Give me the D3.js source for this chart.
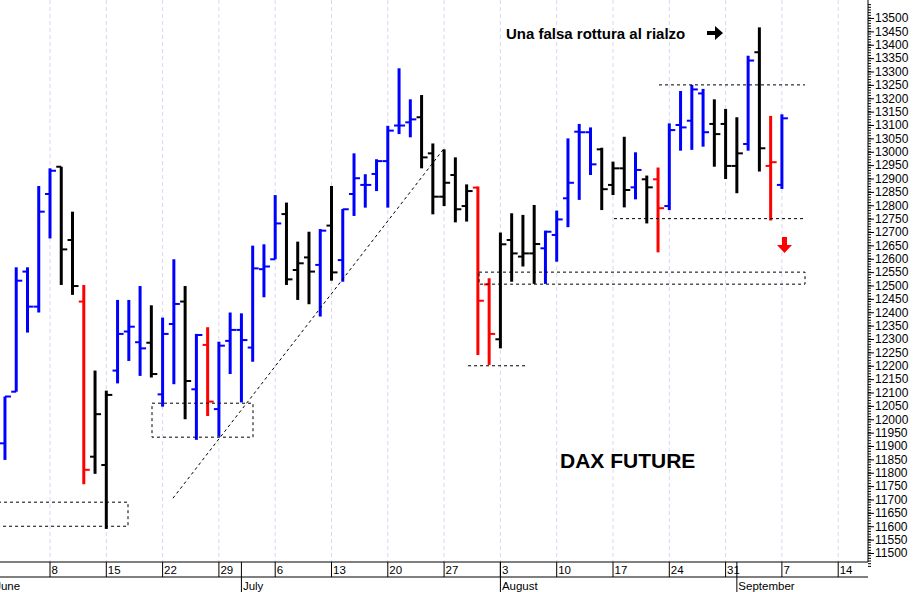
<!DOCTYPE html>
<html lang="it">
  <head>
    <meta charset="UTF-8" />
    <title>DAX Future</title>
    <style>
      body { margin: 0; background: #fff; }
      text { font-family: Arial, "Liberation Sans", sans-serif; }
    </style>
  </head>
  <body>
    <svg id="svg" width="918" height="592"></svg>

    <script src="https://cdn.jsdelivr.net/npm/d3@7"></script>
    <script>
      // daily bars, 2 Jun - 7 Sep 2020
      const dates = [
        "2020-06-02","2020-06-03","2020-06-04","2020-06-05",
        "2020-06-08","2020-06-09","2020-06-10","2020-06-11","2020-06-12",
        "2020-06-15","2020-06-16","2020-06-17","2020-06-18","2020-06-19",
        "2020-06-22","2020-06-23","2020-06-24","2020-06-25","2020-06-26",
        "2020-06-29","2020-06-30","2020-07-01","2020-07-02","2020-07-03",
        "2020-07-06","2020-07-07","2020-07-08","2020-07-09","2020-07-10",
        "2020-07-13","2020-07-14","2020-07-15","2020-07-16","2020-07-17",
        "2020-07-20","2020-07-21","2020-07-22","2020-07-23","2020-07-24",
        "2020-07-27","2020-07-28","2020-07-29","2020-07-30","2020-07-31",
        "2020-08-03","2020-08-04","2020-08-05","2020-08-06","2020-08-07",
        "2020-08-10","2020-08-11","2020-08-12","2020-08-13","2020-08-14",
        "2020-08-17","2020-08-18","2020-08-19","2020-08-20","2020-08-21",
        "2020-08-24","2020-08-25","2020-08-26","2020-08-27","2020-08-28",
        "2020-08-31","2020-09-01","2020-09-02","2020-09-03","2020-09-04",
        "2020-09-07",
      ];
      const open = [
        11910,12103,12552,12421, 12842,12944,12670,12440,11860,
        11829,12182,12328,12288,12286, 12093,12356,12440,12112,12278,
        12038,12293,12334,12268,12561, 12598,12767,12558,12605,12577,
        12724,12595,12842,12876,12917, 12965,13098,13110,13129,12994,
        12832,12913,12797,12866,12504, 12299,12670,12608,12620,12639,
        12689,12826,13075,13073,13009, 12876,12938,12867,12897,12897,
        12797,13100,13116,13218,13104, 13104,12947,13029,13372,12947,
        12876,
      ];
      const high = [
        12085,12568,12568,12872, 12938,12944,12776,12502,12182,
        12107,12446,12446,12498,12426, 12380,12598,12498,12319,12344,
        12290,12399,12396,12649,12654, 12838,12810,12664,12701,12711,
        12872,12786,12994,12916,12972, 13097,13312,13196,13212,13031,
        13009,12979,12878,12870,12527, 12698,12770,12764,12801,12705,
        12780,13050,13104,13091,13015, 12963,13056,12998,12911,12941,
        13106,13227,13250,13235,13196, 13160,13129,13359,13465,13134,
        13140,
      ];
      const low = [
        11848,12103,12324,12399, 12676,12502,12465,11757,11796,
        11590,12134,12218,12162,12156, 12047,12131,12000,11923,12012,
        11935,12169,12063,12215,12456, 12598,12502,12446,12430,12384,
        12518,12514,12760,12791,12853, 12791,13066,13054,12938,12766,
        12797,12736,12739,12240,12203, 12265,12514,12571,12506,12506,
        12589,12718,12820,12913,12782, 12838,12792,12822,12732,12624,
        12782,13004,13007,13019,12944, 12898,12845,13004,12926,12743,
        12861,
      ];
      const close = [
        12085,12518,12421,12776, 12929,12635,12498,11811,12019,
        12091,12319,12346,12265,12169, 12319,12431,12143,12315,12066,
        12275,12334,12296,12564,12571, 12732,12523,12583,12552,12705,
        12549,12785,12901,12876,12965, 13079,13098,13121,12979,12832,
        12884,12785,12853,12443,12319, 12654,12620,12620,12655,12701,
        12747,12884,13073,12953,12860, 12938,12857,12932,12867,12789,
        13081,13091,13233,13073,13066, 12947,12994,13341,13013,12961,
        13125,
      ];
      // b = blue, k = black, r = red
      const barColor = (
        "bbbbbkkrkk" + "bbbkbbkbrb" + "bbbbbkkkbk" + "bbbbbbbkkk" +
        "kkrrkkkkbb" + "bbbkkkbkrb" + "bbbkkkbkrb"
      ).split("");
      const weekLabels = ["8","15","22","29","6","13","20","27","3","10","17","24","31","7","14"];
      const weekStarts = [
        "2020-06-08","2020-06-15","2020-06-22","2020-06-29","2020-07-06",
        "2020-07-13","2020-07-20","2020-07-27","2020-08-03","2020-08-10",
        "2020-08-17","2020-08-24","2020-08-31","2020-09-07","2020-09-14",
      ];
      const months = ["June","July","August","September"];
      const monthStarts = ["2020-06-01","2020-07-01","2020-08-03","2020-09-01"];
      const yTicks = d3.range(11500, 13501, 50);
      const yMinor = d3.range(11450, 13551, 10);

      const colors = { b: "#0000ff", k: "#000000", r: "#ff0000" };
      const parse = d3.timeParse("%Y-%m-%d");
      const origin = parse("2020-06-01");
      // trading-day index counted from Mon 1 June
      const tIndex = (s) =>
        d3.timeDay.range(origin, parse(s)).filter((d) => d.getDay() % 6 !== 0).length;

      const W = 868, yTop = 0, yBottom = 562, yMid = 577;
      const x = d3.scaleLinear().domain([5, 70]).range([50, 781.9]);
      const y = d3.scaleLinear().domain([11500, 13500]).range([553, 18]);

      const svg = d3.select("#svg");
      svg.append("clipPath").attr("id", "clip")
        .append("rect").attr("x", 0).attr("y", 0).attr("width", W).attr("height", yBottom);
      const plot = svg.append("g").attr("clip-path", "url(#clip)");

      // vertical grid at weeks
      plot.selectAll(".grid").data(weekStarts).enter().append("line")
        .attr("x1", (d) => x(tIndex(d))).attr("x2", (d) => x(tIndex(d)))
        .attr("y1", yTop).attr("y2", yBottom)
        .attr("stroke", "#d6d8f0").attr("stroke-dasharray", "4,3").attr("stroke-width", 1);

      const bars = dates.map((d, i) => ({
        i: tIndex(d), o: open[i], h: high[i], l: low[i], c: close[i], col: colors[barColor[i]],
      }));
      const g = plot.selectAll(".bar").data(bars).enter().append("g");
      g.append("line")
        .attr("x1", (d) => x(d.i)).attr("x2", (d) => x(d.i))
        .attr("y1", (d) => y(d.h)).attr("y2", (d) => y(d.l))
        .attr("stroke", (d) => d.col).attr("stroke-width", 3);
      g.append("line")
        .attr("x1", (d) => x(d.i) - 5).attr("x2", (d) => x(d.i))
        .attr("y1", (d) => y(d.o)).attr("y2", (d) => y(d.o))
        .attr("stroke", (d) => d.col).attr("stroke-width", 2);
      g.append("line")
        .attr("x1", (d) => x(d.i)).attr("x2", (d) => x(d.i) + 6)
        .attr("y1", (d) => y(d.c)).attr("y2", (d) => y(d.c))
        .attr("stroke", (d) => d.col).attr("stroke-width", 2);

      // annotations
      const dash = (sel) => sel.attr("fill", "none").attr("stroke", "#000")
        .attr("stroke-width", 1).attr("stroke-dasharray", "3,3");
      const box = (x1, x2, v1, v2) =>
        dash(plot.append("rect").attr("x", x1).attr("width", x2 - x1)
          .attr("y", y(v1)).attr("height", y(v2) - y(v1)));
      const hline = (x1, x2, v) =>
        dash(plot.append("line").attr("x1", x1).attr("x2", x2).attr("y1", y(v)).attr("y2", y(v)));
      box(-2, 128, 11690, 11600);
      box(152, 253, 12060, 11933);
      box(479, 805, 12550, 12505);
      hline(468, 525, 12200);
      hline(659, 805, 13250);
      hline(614, 805, 12750);
      dash(plot.append("line").attr("x1", 173).attr("y1", y(11705))
        .attr("x2", 445).attr("y2", y(13017)));

      svg.append("text").attr("x", 506).attr("y", 39).attr("font-size", 15)
        .attr("font-weight", "bold").text("Una falsa rottura al rialzo");
      svg.append("path").attr("d", "M707,31h8v-5l8,7l-8,7v-5h-8z").attr("fill", "#000");
      svg.append("path").attr("d", "M782,237h5v8h5l-7.5,8l-7.5,-8h5z").attr("fill", "#ff0000");
      svg.append("text").attr("x", 560).attr("y", 468).attr("font-size", 21)
        .attr("font-weight", "bold").text("DAX FUTURE");

      // y axis
      const ya = svg.append("g").attr("transform", `translate(${W},0)`);
      ya.selectAll(".mn").data(yMinor).enter().append("line")
        .attr("x1", 0).attr("x2", 3).attr("y1", (d) => y(d)).attr("y2", (d) => y(d))
        .attr("stroke", "#000");
      ya.call(d3.axisRight(y).tickValues(yTicks).tickSize(6).tickFormat(d3.format("d")))
        .call((a) => a.select(".domain").attr("d", `M0,${yTop}V${yBottom}`))
        .call((a) => a.selectAll("text").attr("font-size", 12).attr("fill", "#000").attr("x", 7));

      // x axis: two rows
      svg.append("line").attr("x1", 0).attr("x2", W).attr("y1", yBottom).attr("y2", yBottom)
        .attr("stroke", "#000");
      svg.append("line").attr("x1", 0).attr("x2", W).attr("y1", yMid).attr("y2", yMid)
        .attr("stroke", "#000");
      const xa = svg.append("g");
      xa.selectAll(".wl").data(weekStarts).enter().append("line")
        .attr("x1", (d) => x(tIndex(d))).attr("x2", (d) => x(tIndex(d)))
        .attr("y1", yBottom).attr("y2", yMid).attr("stroke", "#000");
      xa.selectAll(".wt").data(weekStarts).enter().append("text")
        .attr("x", (d) => x(tIndex(d)) + 1.5).attr("y", 574)
        .attr("font-size", 11.5).text((d, i) => weekLabels[i]);
      xa.selectAll(".ml").data(monthStarts).enter().append("line")
        .attr("x1", (d) => x(tIndex(d))).attr("x2", (d) => x(tIndex(d)))
        .attr("y1", yBottom).attr("y2", 592).attr("stroke", "#000");
      xa.selectAll(".mt").data(monthStarts).enter().append("text")
        .attr("x", (d) => x(tIndex(d)) + 1.5).attr("y", 590).attr("font-size", 11.5)
        .text((d, i) => months[i]);
    </script>
  </body>
</html>
